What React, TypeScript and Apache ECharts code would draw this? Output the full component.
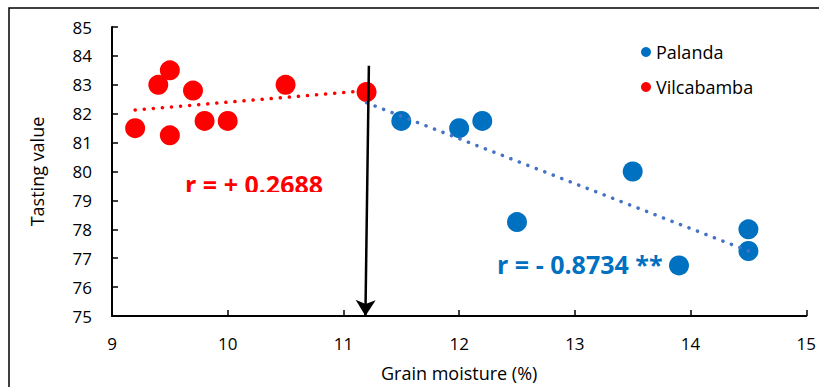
import React, { useEffect, useRef } from "react";
import * as echarts from "echarts";

// Data
const palandaMoisture = [11.5, 12.0, 12.2, 12.5, 13.5, 13.9, 14.5, 14.5];
const palandaTasting = [81.75, 81.5, 81.75, 78.25, 80.0, 76.75, 78.0, 77.25];
const vilcaMoisture = [9.2, 9.4, 9.5, 9.5, 9.7, 9.8, 10.0, 10.5, 11.2];
const vilcaTasting = [81.5, 83.0, 83.5, 81.25, 82.8, 81.75, 81.75, 83.0, 82.75];
const vilcaTrend = [
  [9.2, 82.13],
  [11.2, 82.8],
];
const palandaTrend = [
  [11.2, 82.38],
  [14.5, 77.25],
];
const arrowFrom = [11.22, 83.66];
const arrowTo = [11.19, 75];
const seriesNames = ["Palanda", "Vilcabamba"];
const rVilca = "r = + 0.2688";
const rPalanda = "r = - 0.8734 **";
const xTitle = "Grain moisture (%)";
const yTitle = "Tasting value";

const FONT = "'Open Sans', 'Noto Sans', sans-serif";

export default function App() {
  const ref = useRef<HTMLDivElement>(null);
  useEffect(() => {
    if (!ref.current) return;
    const chart = echarts.init(ref.current, undefined, { renderer: "svg" });
    const zip = (xs: number[], ys: number[]) => xs.map((x, i) => [x, ys[i]]);
    chart.setOption({
      animation: false,
      backgroundColor: "#ffffff",
      textStyle: { fontFamily: FONT },
      grid: { left: 112, right: 12, top: 27, bottom: 65 },
      legend: {
        data: seriesNames,
        orient: "vertical",
        left: 636,
        top: 38,
        icon: "circle",
        itemWidth: 10,
        itemHeight: 10,
        itemGap: 17,
        textStyle: { fontFamily: FONT, fontSize: 18, color: "#000", lineHeight: 18 },
      },
      xAxis: {
        type: "value",
        min: 9,
        max: 15,
        interval: 1,
        name: xTitle,
        nameLocation: "middle",
        nameGap: 48,
        nameTextStyle: { fontFamily: FONT, fontSize: 18, color: "#000" },
        axisLine: { show: true, lineStyle: { color: "#000", width: 2 } },
        axisTick: { show: true, inside: true, length: 6, lineStyle: { color: "#000", width: 1.5 } },
        axisLabel: { fontFamily: FONT, fontSize: 17, color: "#000", margin: 19 },
        splitLine: { show: false },
      },
      yAxis: {
        type: "value",
        min: 75,
        max: 85,
        interval: 1,
        name: yTitle,
        nameLocation: "middle",
        nameGap: 66,
        nameTextStyle: { fontFamily: FONT, fontSize: 18, color: "#000" },
        axisLine: { show: true, lineStyle: { color: "#000", width: 2 } },
        axisTick: { show: true, inside: true, length: 6, lineStyle: { color: "#000", width: 1.5 } },
        axisLabel: { fontFamily: FONT, fontSize: 17, color: "#000", margin: 20 },
        splitLine: { show: false },
      },
      graphic: [
        {
          type: "rect",
          silent: true,
          z: -1,
          shape: { x: 9, y: 8, width: 830, height: 400 },
          style: { fill: "none", stroke: "#000", lineWidth: 1.5 },
        },
        {
          type: "text",
          z: 10,
          left: 185,
          top: 171,
          style: {
            text: rVilca,
            fill: "#FF0000",
            font: `bold 25px ${FONT}`,
          },
        },
        {
          type: "rect",
          z: 11,
          silent: true,
          shape: { x: 180, y: 192, width: 155, height: 14 },
          style: { fill: "#ffffff" },
        },
        {
          type: "text",
          z: 10,
          left: 497,
          top: 251,
          style: {
            text: rPalanda,
            fill: "#0070C0",
            font: `bold 25px ${FONT}`,
          },
        },
        {
          type: "rect",
          z: 11,
          silent: true,
          shape: { x: 492, y: 275, width: 176, height: 14 },
          style: { fill: "#ffffff" },
        },
      ],
      series: [
        {
          name: seriesNames[0],
          type: "scatter",
          symbolSize: 20,
          itemStyle: { color: "#0070C0", opacity: 1 },
          data: zip(palandaMoisture, palandaTasting),
          z: 2,
        },
        {
          name: seriesNames[1],
          type: "scatter",
          symbolSize: 20,
          itemStyle: { color: "#FF0000", opacity: 1 },
          data: zip(vilcaMoisture, vilcaTasting),
          z: 2,
        },
        {
          name: "Vilcabamba trend",
          type: "line",
          data: vilcaTrend,
          showSymbol: false,
          silent: true,
          z: 3,
          lineStyle: { color: "#FF0000", width: 3.5, type: [0.1, 9], cap: "round" },
        },
        {
          name: "Palanda trend",
          type: "line",
          data: palandaTrend,
          showSymbol: false,
          silent: true,
          z: 3,
          lineStyle: { color: "#4472C4", width: 3.5, type: [0.1, 9], cap: "round" },
        },
        {
          name: "arrow",
          type: "line",
          data: [],
          silent: true,
          z: 4,
          markLine: {
            silent: true,
            symbol: ["none", "arrow"],
            symbolSize: [15, 16],
            label: { show: false },
            lineStyle: { color: "#000", width: 2.5, type: "solid" },
            emphasis: { disabled: true },
            data: [[{ coord: arrowFrom }, { coord: arrowTo }]],
          },
        },
      ],
    });
    return () => chart.dispose();
  }, []);
  return (
    <div
      ref={ref}
      style={{ position: "absolute", left: 0, top: 0, width: 819, height: 387 }}
    />
  );
}
